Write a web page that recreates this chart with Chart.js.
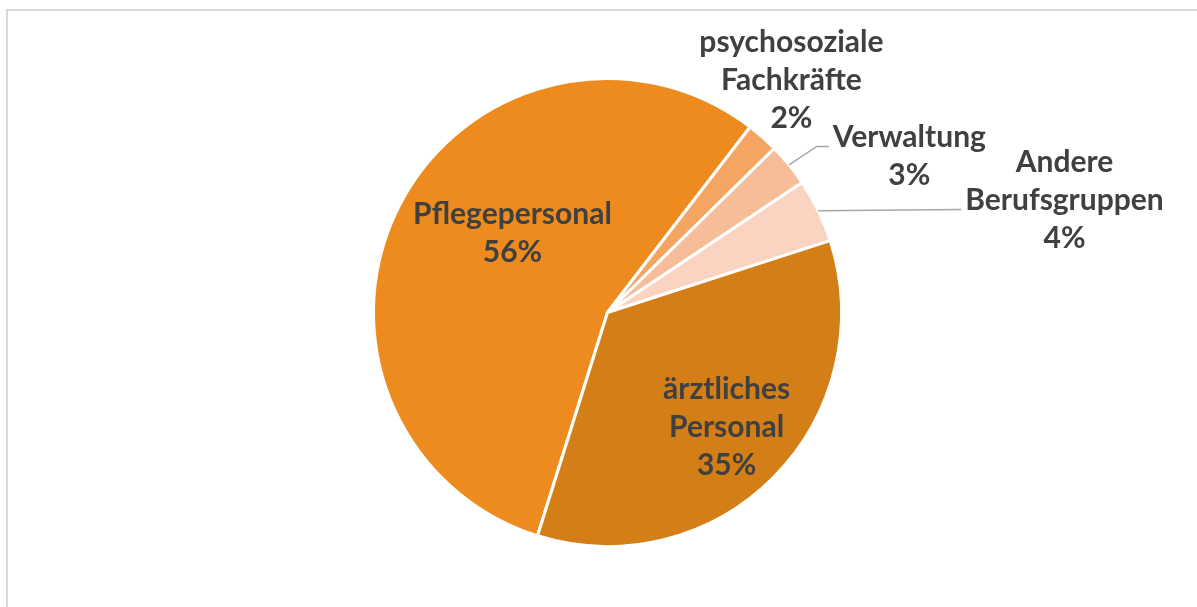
<!DOCTYPE html>
<html>
<head>
<meta charset="utf-8">
<script src="https://cdn.jsdelivr.net/npm/chart.js@4"></script>
<style>
    body { margin: 0; background: #fff; }
    #frame {
        position: absolute; left: 6px; top: 9px; width: 1300px; height: 700px;
        border: 2px solid #d9d9d9;
    }
    #wrap { position: absolute; left: 0; top: 0; width: 1197px; height: 607px; }
</style>
</head>
<body>
<div id="frame"></div>
<div id="wrap"><canvas id="pieChart"></canvas></div>
<script>
// Data
const categories = ['Pflegepersonal', 'psychosoziale Fachkräfte', 'Verwaltung', 'Andere Berufsgruppen', 'ärztliches Personal'];
const shares = [55.6, 2.2, 3.0, 4.4, 34.8];
const percentLabels = ['56%', '2%', '3%', '4%', '35%'];
const labelLines = [
    ['Pflegepersonal'],
    ['psychosoziale', 'Fachkräfte'],
    ['Verwaltung'],
    ['Andere', 'Berufsgruppen'],
    ['ärztliches', 'Personal']
];
const sliceColors = ['#ED8B1F', '#F4A562', '#F7BD98', '#FAD4C1', '#D37E17'];

// label block centres, relative to pie centre in units of radius
const labelPos = [[-0.406, -0.338], [0.786, -0.991], [1.29, -0.667], [1.953, -0.479], [0.509, 0.491]];
// leader line: which text line it points at (-1 = none)
const leaderTo = [-1, -1, 0, 1, -1];

const textColor = '#404040';
const fontSpec = 'bold 30px Lato';
const lineHeight = 38;

const pieLabels = {
    id: 'pieLabels',
    afterDatasetsDraw(chart) {
        const ctx = chart.ctx;
        const meta = chart.getDatasetMeta(0);
        ctx.save();
        meta.data.forEach((arc, i) => {
            const r = arc.outerRadius;
            const cx = arc.x, cy = arc.y;
            const lines = labelLines[i].concat([percentLabels[i]]);
            const bx = cx + labelPos[i][0] * r;
            const by = cy + labelPos[i][1] * r;
            ctx.font = fontSpec;
            ctx.fillStyle = textColor;
            ctx.textAlign = 'center';
            ctx.textBaseline = 'middle';
            const top = by - (lines.length - 1) * lineHeight / 2;
            lines.forEach((t, k) => ctx.fillText(t, bx, top + k * lineHeight));

            const li = leaderTo[i];
            if (li >= 0) {
                const mid = (arc.startAngle + arc.endAngle) / 2;
                const sx = cx + Math.cos(mid) * r;
                const sy = cy + Math.sin(mid) * r;
                const w = ctx.measureText(lines[li]).width;
                const ex = bx - w / 2 - 4;
                const ey = top + li * lineHeight + 9;
                ctx.strokeStyle = '#a6a6a6';
                ctx.lineWidth = 1.5;
                ctx.beginPath();
                ctx.moveTo(sx, sy);
                if (Math.abs(ey - sy) > 6) {
                    ctx.lineTo(ex - 12, ey);
                    ctx.lineTo(ex, ey);
                } else {
                    ctx.lineTo(ex, ey);
                }
                ctx.stroke();
            }
        });
        ctx.restore();
    }
};

window.onload = function() {
    const ctx = document.getElementById('pieChart').getContext('2d');
    new Chart(ctx, {
        type: 'pie',
        data: {
            labels: categories,
            datasets: [{
                data: shares,
                backgroundColor: sliceColors,
                borderColor: '#ffffff',
                borderWidth: 3
            }]
        },
        options: {
            responsive: true,
            maintainAspectRatio: false,
            animation: false,
            rotation: 197.4,
            layout: { padding: { left: 372, right: 354, top: 77, bottom: 59 } },
            plugins: {
                legend: { display: false },
                tooltip: { enabled: false }
            }
        },
        plugins: [pieLabels]
    });
};
</script>
</body>
</html>
